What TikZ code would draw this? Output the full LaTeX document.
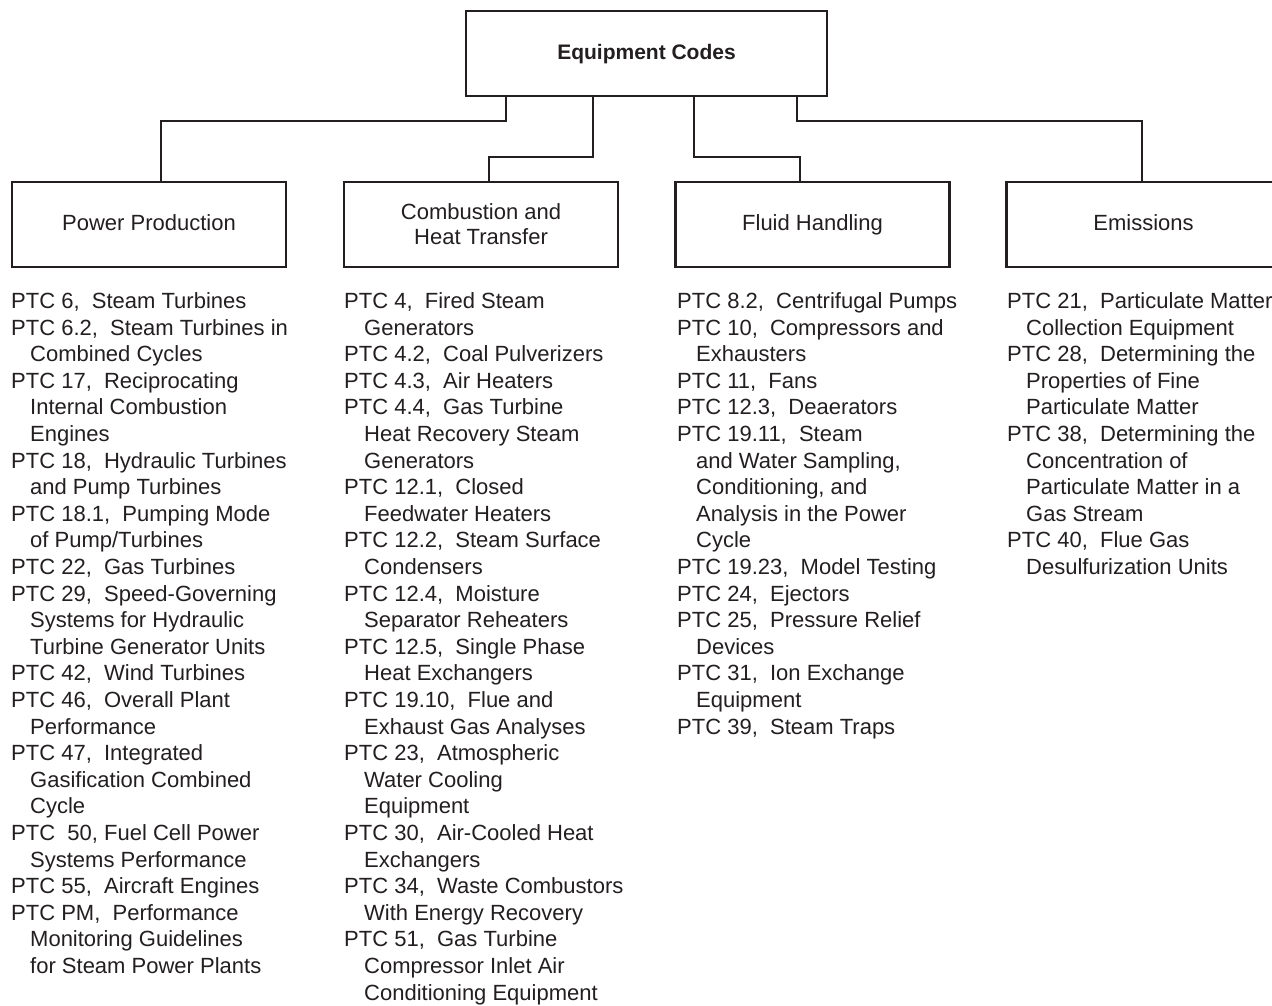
\documentclass[tikz,border=0pt]{standalone}
\usepackage{fontspec}
\setmainfont{Liberation Sans}
\definecolor{ink}{HTML}{231F20}
\tikzset{
  catbox/.style={draw=ink, line width=2.2pt, minimum width=274pt, minimum height=85pt,
    inner sep=0pt, text=ink, align=center, font=\fontsize{22}{25}\selectfont},
  oneline/.style={text height=16pt, text depth=4.6pt},
  link/.style={draw=ink, line width=1.4pt},
  item/.style={anchor=base west, inner sep=0pt, text=ink, font=\fontsize{22}{26.6}\selectfont},
}
\begin{document}
\begin{tikzpicture}[x=1pt, y=-1pt]
\useasboundingbox (0,0) rectangle (1272,1005);
\clip (0,0) rectangle (1272,1005);
\fill[white] (0,0) rectangle (1272,1005);

% top box
\node[catbox, oneline, minimum width=361pt, font=\bfseries\fontsize{21}{25}\selectfont] (top) at (646.5,53.5) {Equipment Codes};

% category boxes
\node[catbox, oneline] (pp)  at (149,224.5)   {Power Production};
\node[catbox] (cht) at (481,224.5)   {Combustion and\\Heat Transfer};
\node[catbox, oneline] (fh)  at (812.5,224.5) {Fluid Handling};
\node[catbox, oneline] (em)  at (1143.5,224.5) {Emissions};

% connectors
\draw[link] ([xshift=41pt]top.south west) -- ++(0,24) -| ([xshift=12pt]pp.north);
\draw[link] ([xshift=128pt]top.south west) -- ++(0,60) -| ([xshift=8pt]cht.north);
\draw[link] ([xshift=229pt]top.south west) -- ++(0,60) -| ([xshift=-12.5pt]fh.north);
\draw[link] ([xshift=-31pt]top.south east) -- ++(0,24) -| ([xshift=-1.5pt]em.north);

% column 1
\foreach \d/\t [count=\i] in {
0/{PTC 6,~~Steam Turbines},
0/{PTC 6.2,~~Steam Turbines in},
1/{Combined Cycles},
0/{PTC 17,~~Reciprocating},
1/{Internal Combustion},
1/{Engines},
0/{PTC 18,~~Hydraulic Turbines},
1/{and Pump Turbines},
0/{PTC 18.1,~~Pumping Mode},
1/{of Pump/Turbines},
0/{PTC 22,~~Gas Turbines},
0/{PTC 29,~~Speed-Governing},
1/{Systems for Hydraulic},
1/{Turbine Generator Units},
0/{PTC 42,~~Wind Turbines},
0/{PTC 46,~~Overall Plant},
1/{Performance},
0/{PTC 47,~~Integrated},
1/{Gasification Combined},
1/{Cycle},
0/{PTC~~50, Fuel Cell Power},
1/{Systems Performance},
0/{PTC 55,~~Aircraft Engines},
0/{PTC PM,~~Performance},
1/{Monitoring Guidelines},
1/{for Steam Power Plants}}
  \node[item] (pa\i) at ({11+\d*19},{308.5+(\i-1)*26.6}) {\t};

% column 2
\foreach \d/\t [count=\i] in {
0/{PTC 4,~~Fired Steam},
1/{Generators},
0/{PTC 4.2,~~Coal Pulverizers},
0/{PTC 4.3,~~Air Heaters},
0/{PTC 4.4,~~Gas Turbine},
1/{Heat Recovery Steam},
1/{Generators},
0/{PTC 12.1,~~Closed},
1/{Feedwater Heaters},
0/{PTC 12.2,~~Steam Surface},
1/{Condensers},
0/{PTC 12.4,~~Moisture},
1/{Separator Reheaters},
0/{PTC 12.5,~~Single Phase},
1/{Heat Exchangers},
0/{PTC 19.10,~~Flue and},
1/{Exhaust Gas Analyses},
0/{PTC 23,~~Atmospheric},
1/{Water Cooling},
1/{Equipment},
0/{PTC 30,~~Air-Cooled Heat},
1/{Exchangers},
0/{PTC 34,~~Waste Combustors},
1/{With Energy Recovery},
0/{PTC 51,~~Gas Turbine},
1/{Compressor Inlet Air},
1/{Conditioning Equipment}}
  \node[item] (pb\i) at ({344+\d*20},{308.5+(\i-1)*26.6}) {\t};

% column 3
\foreach \d/\t [count=\i] in {
0/{PTC 8.2,~~Centrifugal Pumps},
0/{PTC 10,~~Compressors and},
1/{Exhausters},
0/{PTC 11,~~Fans},
0/{PTC 12.3,~~Deaerators},
0/{PTC 19.11,~~Steam},
1/{and Water Sampling,},
1/{Conditioning, and},
1/{Analysis in the Power},
1/{Cycle},
0/{PTC 19.23,~~Model Testing},
0/{PTC 24,~~Ejectors},
0/{PTC 25,~~Pressure Relief},
1/{Devices},
0/{PTC 31,~~Ion Exchange},
1/{Equipment},
0/{PTC 39,~~Steam Traps}}
  \node[item] (pc\i) at ({677+\d*19},{308.5+(\i-1)*26.6}) {\t};

% column 4
\foreach \d/\t [count=\i] in {
0/{PTC 21,~~Particulate Matter},
1/{Collection Equipment},
0/{PTC 28,~~Determining the},
1/{Properties of Fine},
1/{Particulate Matter},
0/{PTC 38,~~Determining the},
1/{Concentration of},
1/{Particulate Matter in a},
1/{Gas Stream},
0/{PTC 40,~~Flue Gas},
1/{Desulfurization Units}}
  \node[item] (pd\i) at ({1007+\d*19},{308.5+(\i-1)*26.6}) {\t};
\end{tikzpicture}
\end{document}
